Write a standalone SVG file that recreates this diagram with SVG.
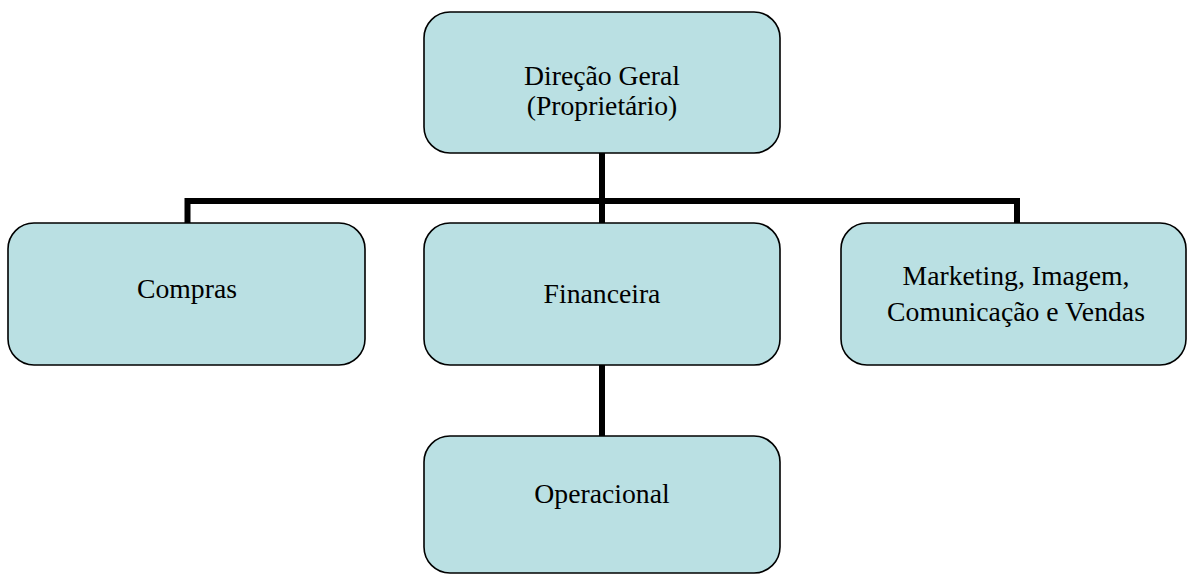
<svg xmlns="http://www.w3.org/2000/svg" width="1187" height="574" viewBox="0 0 1187 574">
<style>
.box{fill:#BAE0E3;stroke:#000;stroke-width:1.6}
.lbl{font-family:"Liberation Serif","Times New Roman",serif;font-size:27.7px;fill:#000;text-anchor:middle}
.con{fill:none;stroke:#000;stroke-width:6;stroke-linejoin:miter}
</style>
<rect width="1187" height="574" fill="#fff"/>
<g id="connectors">
<path class="con" d="M602,153 V223"/>
<path class="con" d="M187.5,223 V201 H1017 V223"/>
<path class="con" d="M602,365 V436"/>
</g>
<g id="direcao">
<rect class="box" x="424" y="12" width="356" height="141" rx="26" ry="26"/>
<text class="lbl" x="602" y="85">Direção Geral</text>
<text class="lbl" x="602" y="115">(Proprietário)</text>
</g>
<g id="compras">
<rect class="box" x="8" y="223" width="357" height="142" rx="26" ry="26"/>
<text class="lbl" x="187" y="298">Compras</text>
</g>
<g id="financeira">
<rect class="box" x="424" y="223" width="356" height="142" rx="26" ry="26"/>
<text class="lbl" x="602" y="303">Financeira</text>
</g>
<g id="marketing">
<rect class="box" x="841" y="223" width="345" height="142" rx="26" ry="26"/>
<text class="lbl" x="1016" y="285">Marketing, Imagem,</text>
<text class="lbl" x="1016" y="321">Comunicação e Vendas</text>
</g>
<g id="operacional">
<rect class="box" x="424" y="436" width="356" height="137" rx="26" ry="26"/>
<text class="lbl" x="602" y="503">Operacional</text>
</g>
</svg>
